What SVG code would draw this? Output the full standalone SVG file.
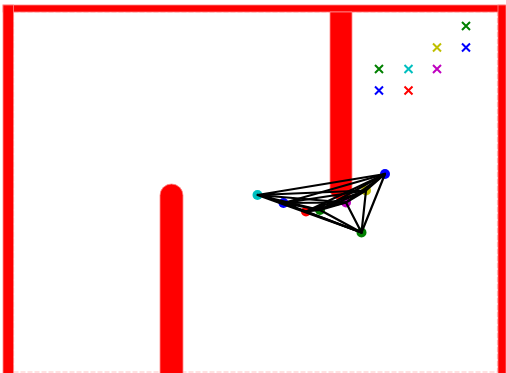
<svg xmlns="http://www.w3.org/2000/svg" xmlns:xlink="http://www.w3.org/1999/xlink" width="506" height="373" viewBox="0 0 506 373">
<style>
.wall{fill:#ff0000;stroke:#ff8a8a;stroke-width:0.8}
.bound{fill:none;stroke:#ffc4c4;stroke-width:1.2;stroke-dasharray:5 2}
.edge{stroke:#000;stroke-width:2.2;fill:none;stroke-linecap:round}
.node{stroke:none}
.mk{stroke-width:2;fill:none}
</style>
<defs>
<path id="x" d="M-4,-4L4,4M-4,4L4,-4" stroke="currentColor" class="mk"/>
</defs>
<rect width="506" height="373" fill="#fff"/>
<g id="walls">
<rect class="bound" x="13.5" y="12" width="484" height="360"/>
<rect class="wall" x="3" y="5" width="502" height="7"/>
<rect class="wall" x="3" y="5" width="10.5" height="370"/>
<rect class="wall" x="498" y="5" width="8" height="370"/>
<path class="wall" d="M330,12 V189 A11,11 0 0 0 352,189 V12 Z"/>
<path class="wall" d="M160,376 V195.5 A11.5,11.5 0 0 1 183,195.5 V376 Z"/>
</g>
<g id="targets">
<use xlink:href="#x" x="466" y="26" style="color:#008000"/>
<use xlink:href="#x" x="437" y="47.5" style="color:#bfbf00"/>
<use xlink:href="#x" x="466" y="47.5" style="color:#0000ff"/>
<use xlink:href="#x" x="379" y="69" style="color:#008000"/>
<use xlink:href="#x" x="408.5" y="69" style="color:#00bfbf"/>
<use xlink:href="#x" x="437" y="69" style="color:#bf00bf"/>
<use xlink:href="#x" x="379" y="90.5" style="color:#0000ff"/>
<use xlink:href="#x" x="408.5" y="90.5" style="color:#ff0000"/>
</g>
<g id="n1"><circle class="node" cx="257.5" cy="195" r="5" fill="#00bfbf"/></g>
<g id="n2"><circle class="node" cx="283.5" cy="203" r="5" fill="#0000ff"/></g>
<g id="n3"><circle class="node" cx="306" cy="211.5" r="5" fill="#ff0000"/></g>
<g id="n4"><circle class="node" cx="320" cy="210" r="5" fill="#008000"/></g>
<g id="n5"><circle class="node" cx="346" cy="202.5" r="5" fill="#bf00bf"/></g>
<g id="n6"><circle class="node" cx="366" cy="190.5" r="5" fill="#bfbf00"/></g>
<g id="n7"><circle class="node" cx="385" cy="174" r="5" fill="#0000ff"/></g>
<g id="n8"><circle class="node" cx="361.5" cy="232.5" r="5" fill="#008000"/></g>
<g id="connectors">
<path class="edge" d="M257.5,195L283.5,203M257.5,195L306,211.5M257.5,195L320,210M257.5,195L346,202.5M257.5,195L366,190.5M257.5,195L385,174M257.5,195L361.5,232.5"/>
<path class="edge" d="M283.5,203L306,211.5M283.5,203L320,210M283.5,203L346,202.5M283.5,203L366,190.5M283.5,203L385,174M283.5,203L361.5,232.5"/>
<path class="edge" d="M306,211.5L320,210M306,211.5L346,202.5M306,211.5L366,190.5M306,211.5L385,174M306,211.5L361.5,232.5"/>
<path class="edge" d="M320,210L346,202.5M320,210L366,190.5M320,210L385,174M320,210L361.5,232.5"/>
<path class="edge" d="M346,202.5L366,190.5M346,202.5L385,174M346,202.5L361.5,232.5"/>
<path class="edge" d="M366,190.5L385,174M366,190.5L361.5,232.5"/>
<path class="edge" d="M385,174L361.5,232.5"/>
</g>
</svg>
